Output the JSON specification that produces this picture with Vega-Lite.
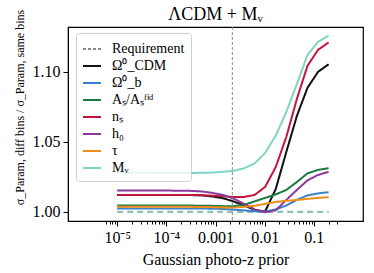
{
  "$schema": "https://vega.github.io/schema/vega-lite/v6.json",
  "width": 295,
  "height": 194,
  "autosize": {"type": "none"},
  "padding": {"left": 68, "top": 27, "right": 11, "bottom": 52},
  "background": "white",
  "config": {
    "font": "Liberation Serif",
    "view": {"stroke": "black", "strokeWidth": 1.2},
    "axis": {
      "grid": false,
      "domainColor": "black",
      "tickColor": "black",
      "labelColor": "black",
      "titleColor": "black",
      "labelFont": "Liberation Serif",
      "titleFont": "Liberation Serif",
      "titleFontWeight": "normal",
      "labelFontSize": 16
    },
    "legend": {
      "orient": "none",
      "legendX": 8,
      "legendY": 6,
      "fillColor": "rgba(255,255,255,0.8)",
      "strokeColor": "#d0d0d0",
      "cornerRadius": 3,
      "padding": 6,
      "labelFont": "Liberation Serif",
      "labelFontSize": 14,
      "labelColor": "black",
      "labelOffset": 10,
      "rowPadding": 0,
      "symbolType": "stroke",
      "symbolSize": 324,
      "symbolStrokeWidth": 2
    }
  },
  "title": {
    "text": "ΛCDM + Mᵥ",
    "font": "Liberation Serif",
    "fontSize": 18,
    "fontWeight": "normal",
    "anchor": "middle",
    "frame": "group",
    "offset": 7,
    "dy": 22,
    "color": "black"
  },
  "layer": [
    {
      "data": {"values": [{"x": 0.00001, "x2": 0.2, "y": 1.0}]},
      "mark": {"type": "rule", "color": "#8fc1b3", "strokeWidth": 2.2, "strokeDash": [6, 4]},
      "encoding": {
        "x": {"field": "x", "type": "quantitative", "scale": {"type": "log", "domain": [0.0000061, 0.328]}},
        "x2": {"field": "x2"},
        "y": {"field": "y", "type": "quantitative", "scale": {"domain": [0.9935, 1.132]}}
      }
    },
    {
      "data": {"values": [
        {"series": "Ω⁰_CDM", "x": 0.00001, "y": 1.0121},
        {"series": "Ω⁰_CDM", "x": 0.000016408, "y": 1.0121},
        {"series": "Ω⁰_CDM", "x": 0.000026923, "y": 1.0121},
        {"series": "Ω⁰_CDM", "x": 0.000044176, "y": 1.0121},
        {"series": "Ω⁰_CDM", "x": 0.000072485, "y": 1.0121},
        {"series": "Ω⁰_CDM", "x": 0.00011893, "y": 1.0121},
        {"series": "Ω⁰_CDM", "x": 0.00019515, "y": 1.0121},
        {"series": "Ω⁰_CDM", "x": 0.00032021, "y": 1.0120},
        {"series": "Ω⁰_CDM", "x": 0.00052541, "y": 1.0118},
        {"series": "Ω⁰_CDM", "x": 0.00086211, "y": 1.0110},
        {"series": "Ω⁰_CDM", "x": 0.0014146, "y": 1.0098},
        {"series": "Ω⁰_CDM", "x": 0.0023211, "y": 1.0075},
        {"series": "Ω⁰_CDM", "x": 0.0038085, "y": 1.0046},
        {"series": "Ω⁰_CDM", "x": 0.0062491, "y": 1.0014},
        {"series": "Ω⁰_CDM", "x": 0.010254, "y": 1.0004},
        {"series": "Ω⁰_CDM", "x": 0.016825, "y": 1.0164},
        {"series": "Ω⁰_CDM", "x": 0.027607, "y": 1.0429},
        {"series": "Ω⁰_CDM", "x": 0.045298, "y": 1.0686},
        {"series": "Ω⁰_CDM", "x": 0.074326, "y": 1.0886},
        {"series": "Ω⁰_CDM", "x": 0.12196, "y": 1.1000},
        {"series": "Ω⁰_CDM", "x": 0.2, "y": 1.1054},

        {"series": "Ω⁰_b", "x": 0.00001, "y": 1.0024},
        {"series": "Ω⁰_b", "x": 0.000016408, "y": 1.0024},
        {"series": "Ω⁰_b", "x": 0.000026923, "y": 1.0024},
        {"series": "Ω⁰_b", "x": 0.000044176, "y": 1.0024},
        {"series": "Ω⁰_b", "x": 0.000072485, "y": 1.0024},
        {"series": "Ω⁰_b", "x": 0.00011893, "y": 1.0024},
        {"series": "Ω⁰_b", "x": 0.00019515, "y": 1.0024},
        {"series": "Ω⁰_b", "x": 0.00032021, "y": 1.0024},
        {"series": "Ω⁰_b", "x": 0.00052541, "y": 1.0024},
        {"series": "Ω⁰_b", "x": 0.00086211, "y": 1.0023},
        {"series": "Ω⁰_b", "x": 0.0014146, "y": 1.0021},
        {"series": "Ω⁰_b", "x": 0.0023211, "y": 1.0016},
        {"series": "Ω⁰_b", "x": 0.0038085, "y": 1.0011},
        {"series": "Ω⁰_b", "x": 0.0062491, "y": 1.0004},
        {"series": "Ω⁰_b", "x": 0.010254, "y": 1.0002},
        {"series": "Ω⁰_b", "x": 0.016825, "y": 1.0018},
        {"series": "Ω⁰_b", "x": 0.027607, "y": 1.0046},
        {"series": "Ω⁰_b", "x": 0.045298, "y": 1.0086},
        {"series": "Ω⁰_b", "x": 0.074326, "y": 1.0118},
        {"series": "Ω⁰_b", "x": 0.12196, "y": 1.0132},
        {"series": "Ω⁰_b", "x": 0.2, "y": 1.0141},

        {"series": "Aₛ/Aₛᶠⁱᵈ", "x": 0.00001, "y": 1.0045},
        {"series": "Aₛ/Aₛᶠⁱᵈ", "x": 0.000016408, "y": 1.0045},
        {"series": "Aₛ/Aₛᶠⁱᵈ", "x": 0.000026923, "y": 1.0045},
        {"series": "Aₛ/Aₛᶠⁱᵈ", "x": 0.000044176, "y": 1.0045},
        {"series": "Aₛ/Aₛᶠⁱᵈ", "x": 0.000072485, "y": 1.0045},
        {"series": "Aₛ/Aₛᶠⁱᵈ", "x": 0.00011893, "y": 1.0045},
        {"series": "Aₛ/Aₛᶠⁱᵈ", "x": 0.00019515, "y": 1.0045},
        {"series": "Aₛ/Aₛᶠⁱᵈ", "x": 0.00032021, "y": 1.0045},
        {"series": "Aₛ/Aₛᶠⁱᵈ", "x": 0.00052541, "y": 1.0044},
        {"series": "Aₛ/Aₛᶠⁱᵈ", "x": 0.00086211, "y": 1.0043},
        {"series": "Aₛ/Aₛᶠⁱᵈ", "x": 0.0014146, "y": 1.0041},
        {"series": "Aₛ/Aₛᶠⁱᵈ", "x": 0.0023211, "y": 1.0041},
        {"series": "Aₛ/Aₛᶠⁱᵈ", "x": 0.0038085, "y": 1.0050},
        {"series": "Aₛ/Aₛᶠⁱᵈ", "x": 0.0062491, "y": 1.0075},
        {"series": "Aₛ/Aₛᶠⁱᵈ", "x": 0.010254, "y": 1.0100},
        {"series": "Aₛ/Aₛᶠⁱᵈ", "x": 0.016825, "y": 1.0125},
        {"series": "Aₛ/Aₛᶠⁱᵈ", "x": 0.027607, "y": 1.0157},
        {"series": "Aₛ/Aₛᶠⁱᵈ", "x": 0.045298, "y": 1.0214},
        {"series": "Aₛ/Aₛᶠⁱᵈ", "x": 0.074326, "y": 1.0275},
        {"series": "Aₛ/Aₛᶠⁱᵈ", "x": 0.12196, "y": 1.0300},
        {"series": "Aₛ/Aₛᶠⁱᵈ", "x": 0.2, "y": 1.0312},

        {"series": "nₛ", "x": 0.00001, "y": 1.0121},
        {"series": "nₛ", "x": 0.000016408, "y": 1.0121},
        {"series": "nₛ", "x": 0.000026923, "y": 1.0121},
        {"series": "nₛ", "x": 0.000044176, "y": 1.0121},
        {"series": "nₛ", "x": 0.000072485, "y": 1.0121},
        {"series": "nₛ", "x": 0.00011893, "y": 1.0121},
        {"series": "nₛ", "x": 0.00019515, "y": 1.0121},
        {"series": "nₛ", "x": 0.00032021, "y": 1.0121},
        {"series": "nₛ", "x": 0.00052541, "y": 1.0119},
        {"series": "nₛ", "x": 0.00086211, "y": 1.0116},
        {"series": "nₛ", "x": 0.0014146, "y": 1.0112},
        {"series": "nₛ", "x": 0.0023211, "y": 1.0106},
        {"series": "nₛ", "x": 0.0038085, "y": 1.0107},
        {"series": "nₛ", "x": 0.0062491, "y": 1.0121},
        {"series": "nₛ", "x": 0.010254, "y": 1.0179},
        {"series": "nₛ", "x": 0.016825, "y": 1.0321},
        {"series": "nₛ", "x": 0.027607, "y": 1.0536},
        {"series": "nₛ", "x": 0.045298, "y": 1.0807},
        {"series": "nₛ", "x": 0.074326, "y": 1.1043},
        {"series": "nₛ", "x": 0.12196, "y": 1.1157},
        {"series": "nₛ", "x": 0.2, "y": 1.1210},

        {"series": "h₀", "x": 0.00001, "y": 1.0152},
        {"series": "h₀", "x": 0.000016408, "y": 1.0152},
        {"series": "h₀", "x": 0.000026923, "y": 1.0152},
        {"series": "h₀", "x": 0.000044176, "y": 1.0152},
        {"series": "h₀", "x": 0.000072485, "y": 1.0152},
        {"series": "h₀", "x": 0.00011893, "y": 1.0152},
        {"series": "h₀", "x": 0.00019515, "y": 1.0151},
        {"series": "h₀", "x": 0.00032021, "y": 1.0150},
        {"series": "h₀", "x": 0.00052541, "y": 1.0146},
        {"series": "h₀", "x": 0.00086211, "y": 1.0136},
        {"series": "h₀", "x": 0.0014146, "y": 1.0121},
        {"series": "h₀", "x": 0.0023211, "y": 1.0096},
        {"series": "h₀", "x": 0.0038085, "y": 1.0057},
        {"series": "h₀", "x": 0.0062491, "y": 1.0018},
        {"series": "h₀", "x": 0.010254, "y": 0.9998},
        {"series": "h₀", "x": 0.016825, "y": 1.0011},
        {"series": "h₀", "x": 0.027607, "y": 1.0086},
        {"series": "h₀", "x": 0.045298, "y": 1.0157},
        {"series": "h₀", "x": 0.074326, "y": 1.0225},
        {"series": "h₀", "x": 0.12196, "y": 1.0264},
        {"series": "h₀", "x": 0.2, "y": 1.0286},

        {"series": "τ", "x": 0.00001, "y": 1.0036},
        {"series": "τ", "x": 0.000016408, "y": 1.0036},
        {"series": "τ", "x": 0.000026923, "y": 1.0036},
        {"series": "τ", "x": 0.000044176, "y": 1.0036},
        {"series": "τ", "x": 0.000072485, "y": 1.0036},
        {"series": "τ", "x": 0.00011893, "y": 1.0036},
        {"series": "τ", "x": 0.00019515, "y": 1.0036},
        {"series": "τ", "x": 0.00032021, "y": 1.0036},
        {"series": "τ", "x": 0.00052541, "y": 1.0035},
        {"series": "τ", "x": 0.00086211, "y": 1.0034},
        {"series": "τ", "x": 0.0014146, "y": 1.0032},
        {"series": "τ", "x": 0.0023211, "y": 1.0031},
        {"series": "τ", "x": 0.0038085, "y": 1.0036},
        {"series": "τ", "x": 0.0062491, "y": 1.0044},
        {"series": "τ", "x": 0.010254, "y": 1.0057},
        {"series": "τ", "x": 0.016825, "y": 1.0071},
        {"series": "τ", "x": 0.027607, "y": 1.0079},
        {"series": "τ", "x": 0.045298, "y": 1.0085},
        {"series": "τ", "x": 0.074326, "y": 1.0093},
        {"series": "τ", "x": 0.12196, "y": 1.0100},
        {"series": "τ", "x": 0.2, "y": 1.0105},

        {"series": "Mᵥ", "x": 0.00001, "y": 1.0280},
        {"series": "Mᵥ", "x": 0.000016408, "y": 1.0280},
        {"series": "Mᵥ", "x": 0.000026923, "y": 1.0279},
        {"series": "Mᵥ", "x": 0.000044176, "y": 1.0279},
        {"series": "Mᵥ", "x": 0.000072485, "y": 1.0278},
        {"series": "Mᵥ", "x": 0.00011893, "y": 1.0278},
        {"series": "Mᵥ", "x": 0.00019515, "y": 1.0278},
        {"series": "Mᵥ", "x": 0.00032021, "y": 1.0278},
        {"series": "Mᵥ", "x": 0.00052541, "y": 1.0279},
        {"series": "Mᵥ", "x": 0.00086211, "y": 1.0281},
        {"series": "Mᵥ", "x": 0.0014146, "y": 1.0286},
        {"series": "Mᵥ", "x": 0.0023211, "y": 1.0293},
        {"series": "Mᵥ", "x": 0.0038085, "y": 1.0311},
        {"series": "Mᵥ", "x": 0.0062491, "y": 1.0346},
        {"series": "Mᵥ", "x": 0.010254, "y": 1.0421},
        {"series": "Mᵥ", "x": 0.016825, "y": 1.0546},
        {"series": "Mᵥ", "x": 0.027607, "y": 1.0714},
        {"series": "Mᵥ", "x": 0.045298, "y": 1.0914},
        {"series": "Mᵥ", "x": 0.074326, "y": 1.1121},
        {"series": "Mᵥ", "x": 0.12196, "y": 1.1214},
        {"series": "Mᵥ", "x": 0.2, "y": 1.1257}
      ]},
      "mark": {"type": "line", "strokeWidth": 2},
      "encoding": {
        "x": {
          "field": "x", "type": "quantitative",
          "scale": {"type": "log", "domain": [0.0000061, 0.328]},
          "axis": {
            "title": "Gaussian photo-z prior",
            "titleFontSize": 16,
            "titlePadding": 6,
            "labelPadding": 3,
            "labelOverlap": false,
            "labelFlush": false,
            "values": [0.000006, 0.000007, 0.000008, 0.000009, 0.00001, 0.00002, 0.00003, 0.00004, 0.00005, 0.00006, 0.00007, 0.00008, 0.00009, 0.0001, 0.0002, 0.0003, 0.0004, 0.0005, 0.0006, 0.0007, 0.0008, 0.0009, 0.001, 0.002, 0.003, 0.004, 0.005, 0.006, 0.007, 0.008, 0.009, 0.01, 0.02, 0.03, 0.04, 0.05, 0.06, 0.07, 0.08, 0.09, 0.1, 0.2, 0.3],
            "labelExpr": "abs(log(datum.value)/LN10 - round(log(datum.value)/LN10)) > 0.01 ? '' : (datum.value < 0.0005 ? (datum.value < 0.00005 ? '10⁻⁵' : '10⁻⁴') : format(datum.value, '~g'))",
            "tickSize": {"condition": {"test": "abs(log(datum.value)/LN10 - round(log(datum.value)/LN10)) < 0.01", "value": 5}, "value": 3}
          }
        },
        "y": {
          "field": "y", "type": "quantitative",
          "scale": {"domain": [0.9935, 1.132]},
          "axis": {
            "title": "σ_Param, diff bins / σ_Param, same bins",
            "titleFontSize": 12,
            "titlePadding": 6,
            "titleY": 80,
            "values": [1.0, 1.05, 1.1],
            "format": ".2f",
            "tickSize": 5,
            "labelPadding": 3
          }
        },
        "color": {
          "field": "series", "type": "nominal",
          "scale": {
            "domain": ["Requirement", "Ω⁰_CDM", "Ω⁰_b", "Aₛ/Aₛᶠⁱᵈ", "nₛ", "h₀", "τ", "Mᵥ"],
            "range": ["#888888", "#111111", "#3a80d0", "#1a7a40", "#c0183c", "#8a3a9a", "#f08c1a", "#80d4c4"]
          },
          "legend": {"title": null}
        },
        "strokeDash": {
          "field": "series", "type": "nominal",
          "scale": {
            "domain": ["Requirement", "Ω⁰_CDM", "Ω⁰_b", "Aₛ/Aₛᶠⁱᵈ", "nₛ", "h₀", "τ", "Mᵥ"],
            "range": [[3, 2], [1, 0], [1, 0], [1, 0], [1, 0], [1, 0], [1, 0], [1, 0]]
          },
          "legend": {"title": null}
        }
      }
    },
    {
      "data": {"values": [{"x": 0.0022, "series": "Requirement"}]},
      "mark": {"type": "rule", "strokeWidth": 1},
      "encoding": {
        "x": {"field": "x", "type": "quantitative"},
        "color": {"field": "series", "type": "nominal"},
        "strokeDash": {"field": "series", "type": "nominal"}
      }
    }
  ]
}
